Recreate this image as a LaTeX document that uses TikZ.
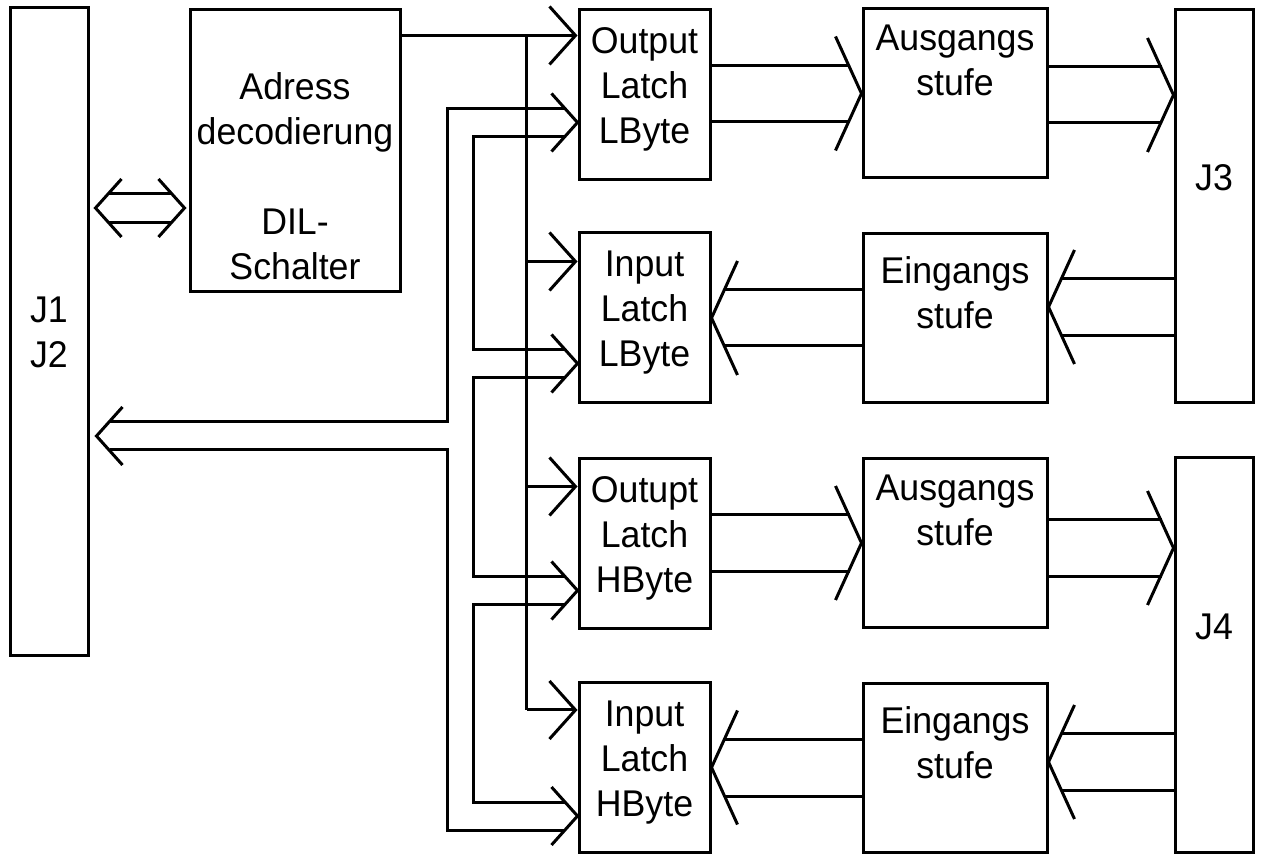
\documentclass[tikz,border=0pt]{standalone}
\usepackage{fontspec}
\setmainfont[FakeStretch=0.96]{Liberation Sans}
\usetikzlibrary{arrows.meta,positioning,calc}

\begin{document}
\begin{tikzpicture}[
  x=0.5pt, y=-0.5pt,
  line width=1.5pt,
  >={Straight Barb[length=13pt,width=29pt]},
  every node/.style={font=\fontsize{18.6}{22.5}\selectfont},
  box/.style={draw,inner sep=0pt,align=center},
  latch/.style={box,minimum width=65.5pt,minimum height=85pt,text depth=9pt},
  stufe/.style={box,minimum width=92pt,minimum height=84.5pt},
  jbox/.style={box,minimum width=39pt},
  txt/.style={inner sep=0pt,align=center},
  arrow/.style={->},
  widehead/.pic={\draw (-26,-29) -- (0,0) -- (-26,29);},
  tallhead/.pic={\draw (-26,-57) -- (0,0) -- (-26,57);}
]
  \useasboundingbox (0,0) rectangle (1263,854);

  % connectors and address decoder
  \node[jbox,minimum height=324pt] (j12) at (49,332) {J1\\J2};
  \node[box,minimum width=105pt,minimum height=141pt] (addr) at (295,151) {};
  \node[txt,below=31.5pt of addr.north] (addrtxt) {Adress\\decodierung\\~\\DIL-\\Schalter};

  % latches
  \node[latch] (ol1) at (644.5,95) {Output\\Latch\\LByte};
  \node[latch] (il1) at (644.5,318) {Input\\Latch\\LByte};
  \node[latch] (ol2) at (644.5,544) {Outupt\\Latch\\HByte};
  \node[latch] (il2) at (644.5,767.5) {Input\\Latch\\HByte};

  % driver stages
  \node[stufe] (ag1) at (955,93.5) {};
  \node[txt,below=8pt of ag1.north] (ag1txt) {Ausgangs\\stufe};
  \node[stufe] (eg1) at (955,318) {};
  \node[txt,below=11.5pt of eg1.north] (eg1txt) {Eingangs\\stufe};
  \node[stufe] (ag2) at (955,543) {};
  \node[txt,below=8pt of ag2.north] (ag2txt) {Ausgangs\\stufe};
  \node[stufe] (eg2) at (955,768) {};
  \node[txt,below=11.5pt of eg2.north] (eg2txt) {Eingangs\\stufe};

  \node[jbox,minimum height=196.5pt] (j3) at (1214,206.5) {};
  \node[txt] (j3txt) at ($(j3.center)+(0,-29)$) {J3};
  \node[jbox,minimum height=197pt] (j4) at (1214,655) {};
  \node[txt] (j4txt) at ($(j4.center)+(0,-28)$) {J4};

  % J1/J2 <-> address decoder
  \coordinate (dl) at ($(j12.east |- addr.west)+(6,57)$);
  \coordinate (dr) at ($(addr.west)+(-4,57)$);
  \draw ($(dl)+(13,-14.5)$) -- ($(dr)+(-13,-14.5)$);
  \draw ($(dl)+(13,14.5)$) -- ($(dr)+(-13,14.5)$);
  \pic[xscale=-1] at (dl) {widehead};
  \pic at (dr) {widehead};

  % select lines
  \coordinate (cbus) at ($(ol1.north west)+(-51,27)$);
  \coordinate (il1c) at ($(il1.north west)+(0,30)$);
  \coordinate (ol2c) at ($(ol2.north west)+(0,29)$);
  \coordinate (il2c) at ($(il2.north west)+(0,29)$);
  \draw[arrow] (addr.east |- cbus) -- (ol1.west |- cbus);
  \draw (cbus) -- (cbus |- il2c);
  \draw[arrow] (cbus |- il1c) -- (il1c);
  \draw[arrow] (cbus |- ol2c) -- (ol2c);
  \draw[arrow] (cbus |- il2c) -- (il2c);

  % data bus
  \coordinate (ol1d) at ($(ol1.north west)+(0,114)$);
  \coordinate (il1d) at ($(il1.north west)+(0,132)$);
  \coordinate (ol2d) at ($(ol2.north west)+(0,133)$);
  \coordinate (il2d) at ($(il2.north west)+(0,135)$);
  \coordinate (j12d) at ($(j12.east)+(7,104)$);
  \coordinate (obus) at ($(ol1.west)+(-130,0)$);
  \coordinate (ibus) at ($(ol1.west)+(-104,0)$);
  \coordinate (ol1u) at ($(ol1d)+(-13,-14)$);
  \coordinate (ol1l) at ($(ol1d)+(-13,14)$);
  \coordinate (il1u) at ($(il1d)+(-13,-14)$);
  \coordinate (il1l) at ($(il1d)+(-13,14)$);
  \coordinate (ol2u) at ($(ol2d)+(-13,-14)$);
  \coordinate (ol2l) at ($(ol2d)+(-13,14)$);
  \coordinate (il2u) at ($(il2d)+(-13,-14)$);
  \coordinate (il2l) at ($(il2d)+(-13,14)$);
  \coordinate (j12u) at ($(j12d)+(13,-14)$);
  \coordinate (j12l) at ($(j12d)+(13,14)$);
  \draw (j12u) -| (obus |- ol1u) -- (ol1u);
  \draw (j12l) -| (obus |- il2l) -- (il2l);
  \draw (ol1l) -| (ibus |- il1u) -- (il1u);
  \draw (il1l) -| (ibus |- ol2u) -- (ol2u);
  \draw (ol2l) -| (ibus |- il2u) -- (il2u);
  \pic at (ol1d) {widehead};
  \pic at (il1d) {widehead};
  \pic at (ol2d) {widehead};
  \pic at (il2d) {widehead};
  \pic[xscale=-1] at (j12d) {widehead};

  % latch -> stage -> connector, upper half
  \draw ($(ol1.east |- ag1.west)+(0,-28)$) -- ($(ag1.west)+(-12,-28)$);
  \draw ($(ol1.east |- ag1.west)+(0,28)$) -- ($(ag1.west)+(-12,28)$);
  \pic at (ag1.west) {tallhead};
  \coordinate (j3in) at ($(j3.west |- ag1.east)+(0,1.5)$);
  \draw ($(ag1.east |- j3in)+(0,-28)$) -- ($(j3in)+(-12,-28)$);
  \draw ($(ag1.east |- j3in)+(0,28)$) -- ($(j3in)+(-12,28)$);
  \pic at (j3in) {tallhead};
  \coordinate (eg1in) at ($(eg1.east)+(0,-11)$);
  \draw ($(j3.west |- eg1in)+(0,-28.5)$) -- ($(eg1in)+(13,-28.5)$);
  \draw ($(j3.west |- eg1in)+(0,28.5)$) -- ($(eg1in)+(13,28.5)$);
  \pic[xscale=-1] at (eg1in) {tallhead};
  \draw ($(eg1.west |- il1.east)+(0,-28)$) -- ($(il1.east)+(13,-28)$);
  \draw ($(eg1.west |- il1.east)+(0,28)$) -- ($(il1.east)+(13,28)$);
  \pic[xscale=-1] at (il1.east) {tallhead};

  % latch -> stage -> connector, lower half
  \draw ($(ol2.east |- ag2.west)+(0,-28.5)$) -- ($(ag2.west)+(-12,-28.5)$);
  \draw ($(ol2.east |- ag2.west)+(0,28.5)$) -- ($(ag2.west)+(-12,28.5)$);
  \pic at (ag2.west) {tallhead};
  \coordinate (j4in) at ($(j4.west |- ag2.east)+(0,5)$);
  \draw ($(ag2.east |- j4in)+(0,-28.5)$) -- ($(j4in)+(-12,-28.5)$);
  \draw ($(ag2.east |- j4in)+(0,28.5)$) -- ($(j4in)+(-12,28.5)$);
  \pic at (j4in) {tallhead};
  \coordinate (eg2in) at ($(eg2.east)+(0,-6)$);
  \draw ($(j4.west |- eg2in)+(0,-28.5)$) -- ($(eg2in)+(13,-28.5)$);
  \draw ($(j4.west |- eg2in)+(0,28.5)$) -- ($(eg2in)+(13,28.5)$);
  \pic[xscale=-1] at (eg2in) {tallhead};
  \draw ($(eg2.west |- il2.east)+(0,-28.5)$) -- ($(il2.east)+(13,-28.5)$);
  \draw ($(eg2.west |- il2.east)+(0,28.5)$) -- ($(il2.east)+(13,28.5)$);
  \pic[xscale=-1] at (il2.east) {tallhead};
\end{tikzpicture}
\end{document}
